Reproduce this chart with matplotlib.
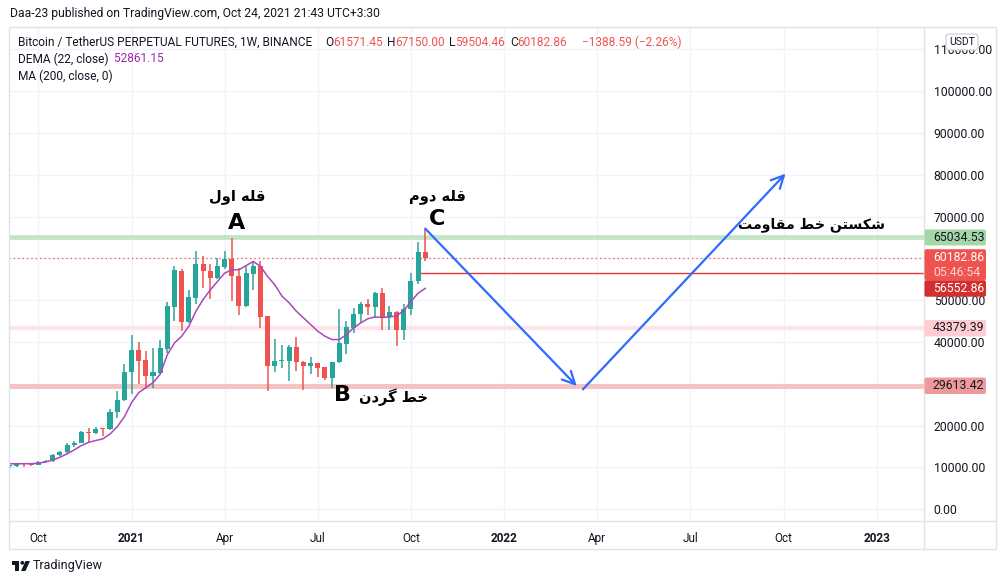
import numpy as np
import pandas as pd
import matplotlib
matplotlib.use('Agg')
import matplotlib.pyplot as plt
import matplotlib.dates as mdates
from matplotlib.patches import Rectangle, Polygon, Circle, FancyBboxPatch

# ---------------- data ----------------
first_week = '2020-09-07'
opens = [10250, 10450, 10900, 10750, 10650, 11350, 11500, 13000, 13700, 15450,
         15950, 18400, 18150, 19300, 19150, 23300, 26200, 32900, 38100, 35600,
         31900, 32700, 38300, 48400, 57100, 44800, 50600, 58800, 57100, 55300,
         57900, 59800, 55900, 48600, 56300, 58100, 46200, 34300, 35500, 35500,
         38800, 35300, 34400, 34900, 34000, 31500, 35200, 39600, 43400, 46700,
         49000, 48400, 51700, 46000, 47200, 42800, 48000, 54500, 61571.45]
highs = [10600, 11100, 11000, 10950, 11450, 11700, 13300, 14000, 15900, 16450,
         18700, 19450, 19700, 19420, 24000, 28300, 34700, 41800, 40000, 37800,
         38600, 40600, 49700, 58300, 57500, 52400, 61700, 60500, 58600, 60200,
         61700, 64850, 57700, 58300, 59300, 59300, 46300, 40800, 39300, 39300,
         41200, 35500, 36400, 35100, 34100, 35300, 47900, 45000, 48200, 49600,
         50400, 52000, 52900, 48600, 47400, 49200, 56600, 63900, 67150.00]
lows = [9900, 10200, 10150, 10380, 10500, 11200, 11400, 12800, 13200, 14900,
        15800, 16200, 18000, 17600, 19000, 21800, 25800, 27600, 29900, 28800,
        28900, 32300, 37400, 45000, 42600, 44600, 49100, 52900, 50200, 55000,
        57400, 49800, 46500, 48300, 52400, 43400, 28400, 32900, 33900, 30600,
        33100, 28600, 32400, 31700, 30900, 28900, 34900, 37100, 42200, 44600,
        46600, 45800, 42800, 42900, 39100, 40400, 46600, 53900, 59504.46]
closes = [10450, 10900, 10750, 10650, 11350, 11500, 13000, 13700, 15450, 15950,
          18400, 18150, 19300, 19150, 23300, 26200, 32900, 38100, 35500, 31900,
          32900, 38600, 48600, 57300, 44800, 50700, 58800, 56900, 55300, 58100,
          59800, 55700, 48600, 56500, 58100, 46100, 34300, 35500, 35800, 38800,
          35300, 34300, 35000, 33900, 31500, 35200, 39800, 43600, 46800, 49000,
          48400, 51700, 46000, 47200, 42800, 48000, 54500, 61571.45, 60182.86]
dema_22 = [10880, 10900, 10900, 10900, 11050, 11300, 11800, 12450, 13250, 14200,
           15250, 16000, 16450, 16850, 18000, 19750, 22100, 25500, 27900, 29100,
           30300, 32300, 37000, 39800, 41400, 43800, 47400, 50200, 52500, 54500,
           56500, 57300, 57300, 58300, 59300, 58100, 55700, 53700, 51000, 49400,
           47400, 45800, 44200, 42600, 41400, 40600, 40600, 41800, 43400, 44600,
           45600, 46000, 45900, 46000, 46300, 47500, 49700, 51700, 52861.15]

level_resist = 65034.53
level_mid = 43379.39
level_neck = 29613.42
last_price = 60182.86
prev_line = 56552.86
countdown = '05:46:54'

tick_dates = ['2020-10-05', '2021-01-04', '2021-04-05', '2021-07-05', '2021-10-04',
              '2022-01-03', '2022-04-04', '2022-07-04', '2022-10-03', '2023-01-02']
tick_labels = ['Oct', '2021', 'Apr', 'Jul', 'Oct', '2022', 'Apr', 'Jul', 'Oct', '2023']
price_ticks = list(range(0, 110001, 10000))

arrow_start_dates = ['2021-10-18', '2022-03-21']
arrow_start_vals = [67150, 28700]
arrow_end_dates = ['2022-03-15', '2022-10-05']
arrow_end_vals = [29500, 80300]

note_texts = ['A', 'قله اول', 'C', 'قله دوم', 'B', 'خط گردن', 'شکستن خط مقاومت']
note_dates = ['2021-04-17', '2021-04-17', '2021-10-30', '2021-10-30', '2021-07-29', '2021-09-17', '2022-10-30']
note_vals = [68400, 74900, 69400, 74800, 27300, 26900, 68000]
note_sizes = [16, 10.5, 16, 10.5, 16, 10.5, 10.2]

# ---------------- Persian shaping ----------------
FORMS = {
    'ا': ('\uFE8D', '\uFE8E', None, None),
    'د': ('\uFEA9', '\uFEAA', None, None),
    'ر': ('\uFEAD', '\uFEAE', None, None),
    'و': ('\uFEED', '\uFEEE', None, None),
    'ق': ('\uFED5', '\uFED6', '\uFED7', '\uFED8'),
    'ل': ('\uFEDD', '\uFEDE', '\uFEDF', '\uFEE0'),
    'ه': ('\uFEE9', '\uFEEA', '\uFEEB', '\uFEEC'),
    'م': ('\uFEE1', '\uFEE2', '\uFEE3', '\uFEE4'),
    'خ': ('\uFEA5', '\uFEA6', '\uFEA7', '\uFEA8'),
    'ط': ('\uFEC1', '\uFEC2', '\uFEC3', '\uFEC4'),
    'گ': ('\uFB92', '\uFB93', '\uFB94', '\uFB95'),
    'ن': ('\uFEE5', '\uFEE6', '\uFEE7', '\uFEE8'),
    'ش': ('\uFEB5', '\uFEB6', '\uFEB7', '\uFEB8'),
    'ک': ('\uFB8E', '\uFB8F', '\uFB90', '\uFB91'),
    'س': ('\uFEB1', '\uFEB2', '\uFEB3', '\uFEB4'),
    'ت': ('\uFE95', '\uFE96', '\uFE97', '\uFE98'),
}


def shape(text):
    if not any(c in FORMS for c in text):
        return text
    words = []
    for w in text.split(' '):
        res = []
        for i, c in enumerate(w):
            f = FORMS[c]
            prev_j = i > 0 and FORMS[w[i - 1]][2] is not None
            next_j = i < len(w) - 1 and f[2] is not None
            if prev_j and next_j:
                g = f[3]
            elif prev_j:
                g = f[1]
            elif next_j:
                g = f[2]
            else:
                g = f[0]
            res.append(g)
        words.append(''.join(reversed(res)))
    return ' '.join(reversed(words))


# ---------------- figure ----------------
W, H = 1006, 584
UI = 'Roboto'
TXT = '#131722'
UP, DOWN = '#26a69a', '#ef5350'
FS = 8.6
fig = plt.figure(figsize=(W / 100, H / 100), dpi=100)
fig.patch.set_facecolor('white')

L_, R_, T_, B_ = 9, 924, 27, 521
ax = fig.add_axes([L_ / W, 1 - B_ / H, (R_ - L_) / W, (B_ - T_) / H])
ax.set_facecolor('white')
for s in ax.spines.values():
    s.set_visible(False)

dates = pd.date_range(first_week, periods=len(closes), freq='7D').to_pydatetime()
xd = mdates.date2num(dates)
base = mdates.date2num(pd.Timestamp('2021-01-04').to_pydatetime())
ppd = 7.165 / 7.0
ax.set_xlim(base - (131.5 - L_) / ppd, base + (R_ - 131.5) / ppd)
ax.set_ylim(-2800, 115380)


def ypix(v):
    return H - ax.transData.transform((xd[0], v))[1]


# price tag boxes (top, height, face colour, text colour, value)
yr = ypix(level_resist)
yl = ypix(last_price)
yp = max(ypix(prev_line), yl + 30.5)
ym = ypix(level_mid)
yn = ypix(level_neck)
tags = [(yr - 8, 16, '#a5d6a7', TXT, level_resist, yr),
        (yl - 8.5, 31, '#ef5350', 'white', last_price, yl),
        (yp - 8, 16.5, '#d32f2f', 'white', prev_line, yp),
        (ym - 8, 16.5, '#ffcdd2', TXT, level_mid, ym),
        (yn - 8, 16.5, '#ef9a9a', TXT, level_neck, yn)]


def hidden(v):
    yy = ypix(v)
    return any(t[0] - 2 <= yy <= t[0] + t[1] + 2 for t in tags)


ax.set_yticks(price_ticks)
ax.set_yticklabels(['' if hidden(v) else f'{v:.2f}' for v in price_ticks])
ax.yaxis.tick_right()
ax.tick_params(axis='y', length=0, pad=7, labelsize=8.8, labelcolor=TXT)
for t in ax.get_yticklabels():
    t.set_fontfamily(UI)

tx = mdates.date2num([pd.Timestamp(d).to_pydatetime() for d in tick_dates])
ax.set_xticks(tx)
ax.set_xticklabels(tick_labels)
ax.tick_params(axis='x', length=0, pad=8, labelsize=8.5, labelcolor=TXT)
for t in ax.get_xticklabels():
    t.set_fontfamily(UI)
    if t.get_text().isdigit():
        t.set_fontweight('bold')
ax.grid(True, color='#f0f3fa', lw=1, zorder=0)
ax.set_axisbelow(True)

# horizontal levels
ax.axhline(level_resist, color='#c3e4c5', lw=3.4, zorder=1)
ax.axhline(level_mid, color='#fde6ea', lw=3.2, zorder=1)
ax.axhline(level_neck, color='#f5c3c3', lw=3.6, zorder=1)
ax.axhline(last_price, color=DOWN, lw=0.9, ls=(0, (1, 2.5)), zorder=1)
ax.hlines(prev_line, xd[-2], ax.get_xlim()[1], color='#e53935', lw=1, zorder=1)

# candles
o = np.array(opens); h = np.array(highs); l = np.array(lows); c = np.array(closes)
cols = np.where(c >= o, UP, DOWN)
ax.vlines(xd, l, h, colors=cols, lw=1.1, zorder=3)
body = np.maximum(np.abs(c - o), 250)
ax.bar(xd, body, bottom=np.minimum(o, c), width=4.9, color=cols, lw=0, zorder=4)

# DEMA
ax.plot(xd, dema_22, color='#ab47bc', lw=1.1, zorder=5)

# arrows
for sd, sv, ed, ev in zip(arrow_start_dates, arrow_start_vals, arrow_end_dates, arrow_end_vals):
    s = mdates.date2num(pd.Timestamp(sd).to_pydatetime())
    e = mdates.date2num(pd.Timestamp(ed).to_pydatetime())
    ax.annotate('', xy=(e, ev), xytext=(s, sv),
                arrowprops=dict(arrowstyle='->,head_length=0.9,head_width=0.45',
                                color='#2f6bff', lw=1.6, shrinkA=0, shrinkB=0),
                zorder=6)

# notes
for t, d, v, sz in zip(note_texts, note_dates, note_vals, note_sizes):
    xdn = mdates.date2num(pd.Timestamp(d).to_pydatetime())
    ax.text(xdn, v, shape(t), ha='center', va='center', fontsize=sz,
            fontweight='bold', color='black', family=['DejaVu Sans'], zorder=7)

# ---------------- overlay (pixel coordinates) ----------------
ov = fig.add_axes([0, 0, 1, 1], facecolor='none')
ov.set_xlim(0, W)
ov.set_ylim(H, 0)
ov.axis('off')

BORDER = '#e0e3eb'
ov.add_patch(Rectangle((L_, T_), 996 - L_, 549 - T_, fill=False, ec=BORDER, lw=1))
ov.plot([R_, R_], [T_, 549], color=BORDER, lw=1)
ov.plot([L_, 996], [B_, B_], color=BORDER, lw=1)

TAG_X, TAG_W = 924.5, 61.5
for top, hgt, fc, tc, val, yc in tags:
    ov.add_patch(FancyBboxPatch((TAG_X, top), TAG_W, hgt,
                                boxstyle='round,pad=0,rounding_size=2', fc=fc, ec='none', zorder=5))
    ov.text(933, yc, f'{val:.2f}', fontsize=8.8, family=UI, color=tc, va='center', zorder=6)
ov.text(933, yl + 14.5, countdown, fontsize=8.8, family=UI, color='#fbd4d4', va='center', zorder=6)

# USDT box
ov.add_patch(FancyBboxPatch((946, 34), 32, 16, boxstyle='round,pad=0,rounding_size=3',
                            fc='white', ec='#c9ccd3', lw=0.8, zorder=5))
ov.text(962, 42, 'USDT', fontsize=7.5, family=UI, color=TXT, ha='center', va='center', zorder=6)

# header texts
ov.text(10, 14, 'Daa-23 published on TradingView.com, Oct 24, 2021 21:43 UTC+3:30',
        fontsize=8.7, family=UI, color=TXT, va='center')
ov.text(18, 42, 'Bitcoin / TetherUS PERPETUAL FUTURES, 1W, BINANCE', fontsize=FS,
        family=UI, color=TXT, va='center')
ohlc = [('O', opens[-1], 325), ('H', highs[-1], 387), ('L', lows[-1], 449), ('C', closes[-1], 510)]
for k, v, px in ohlc:
    tk = ov.text(px, 42, k, fontsize=FS, family=UI, color=TXT, va='center')
    ov.annotate(f'{v:.2f}', xycoords=tk, xy=(1, 0.5), va='center', fontsize=FS,
                family=UI, color=DOWN)
chg = closes[-1] - opens[-1]
ov.text(582, 42, f'\u2212{abs(chg):.2f} (\u2212{abs(chg) / opens[-1] * 100:.2f}%)',
        fontsize=FS, family=UI, color=DOWN, va='center')
dl = ov.text(18, 59, 'DEMA (22, close)', fontsize=FS, family=UI, color=TXT, va='center')
ov.annotate(f'  {dema_22[-1]:.2f}', xycoords=dl, xy=(1, 0.5), va='center', fontsize=FS,
            family=UI, color='#9c27b0')
ov.text(18, 76, 'MA (200, close, 0)', fontsize=FS, family=UI, color=TXT, va='center')

# TradingView logo
ov.add_patch(Polygon([(12, 561), (19.5, 561), (19.5, 571), (15.5, 571), (15.5, 564.5), (12, 564.5)],
                     closed=True, fc=TXT, ec='none'))
ov.add_patch(Circle((22.3, 562.8), 1.9, fc=TXT, ec='none'))
ov.add_patch(Polygon([(25.5, 561), (30, 561), (25.5, 571), (21, 571)], closed=True, fc=TXT, ec='none'))
ov.text(33, 566, 'TradingView', fontsize=9, family=UI, color=TXT, va='center')

fig.savefig('out.png', dpi=100, facecolor='white')
